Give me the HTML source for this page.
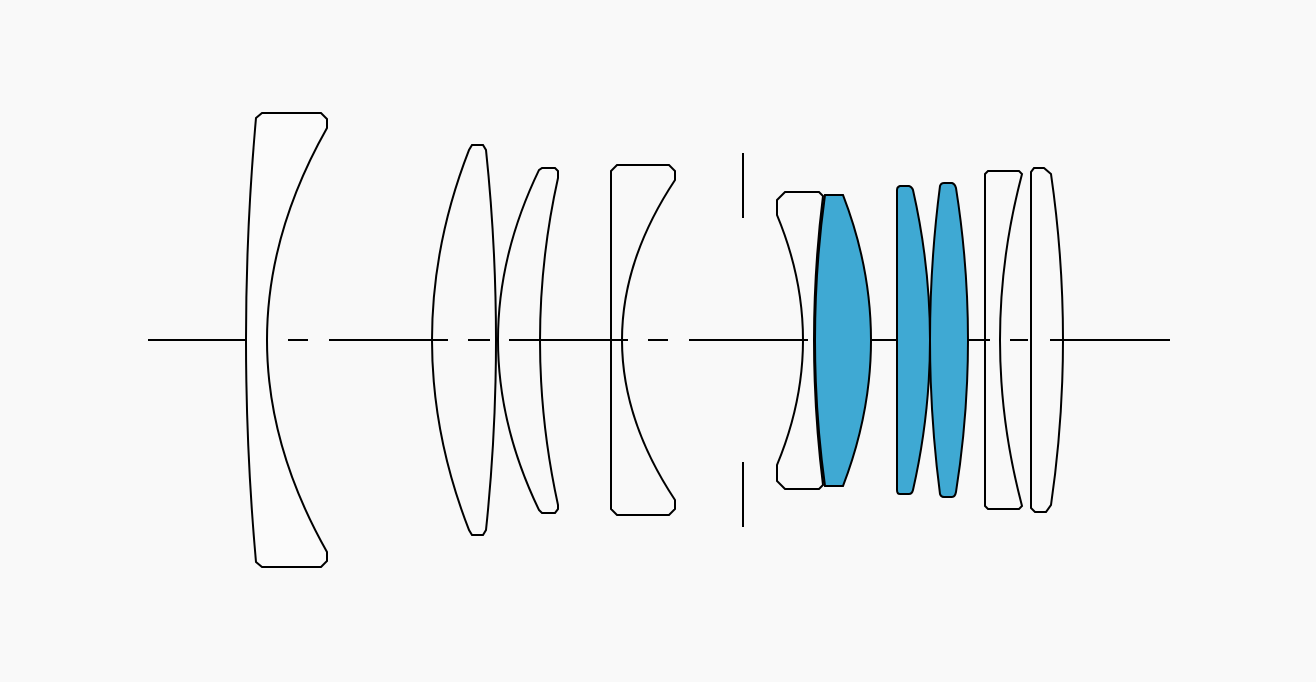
<!DOCTYPE html>
<html><head><meta charset="utf-8"><style>html,body{margin:0;padding:0;background:#f9f9f9}svg{display:block}</style></head>
<body>
<svg width="1316" height="682" viewBox="0 0 1316 682" xmlns="http://www.w3.org/2000/svg">
<rect width="1316" height="682" fill="#f9f9f9"/>
<g stroke="#000" stroke-width="2" fill="none">
<path d="M148 340H267M288 340H308M329 340H448M468 340H490M509 340H628M648 340H668M689 340H808M872 340H897M968 340H990M1010 340H1028M1050 340H1170"/>
<path d="M743 153V218M743 462V527"/>
<!-- lens 1 -->
<path d="M256 118 Q236 340 256 562 L262 567 L321 567 L327 561 L327 552 Q207 340 327 128 L327 119 L321 113 L262 113 Z" fill="#fbfbfb"/>
<!-- lens 2 -->
<path d="M469 150 Q395 340 469 530 L472 535 L483 535 L486 530 Q506 340 486 150 L483 145 L472 145 Z"/>
<!-- lens 3 -->
<path d="M539 170 Q457 340 539 510 L542 513 L555 513 L558 509 L558 505 Q522 340 558 178 L558 171 L555 168 L542 168 Z"/>
<!-- lens 4 -->
<path d="M611 171 L611 509 L617 515 L669 515 L675 509 L675 500 Q569 340 675 180 L675 171 L669 165 L617 165 Z"/>
<!-- lens 5 white -->
<path d="M777 200 L785 192 L819 192 L823 196 Q805 340 823 485 L819 489 L785 489 L777 481 L777 465 Q829 340 777 215 Z"/>
<!-- blue lenses -->
<path d="M825 195 L843 195 Q899 340 843 486 L825 486 Q805 340 825 195 Z" fill="#3fa9d3"/>
<path d="M897 190 Q897 187 900 186 L909 186 Q912 187 913 190 Q947 340 913 490 Q912 494 909 494 L900 494 Q897 494 897 490 Z" fill="#3fa9d3"/>
<path d="M940 186 Q941 183 944 183 L952 183 Q955 184 956 188 Q980 340 956 492 Q955 497 952 497 L944 497 Q941 497 940 494 Q920 340 940 186 Z" fill="#3fa9d3"/>
<!-- lens 6 -->
<path d="M985 174 L988 171 L1019 171 L1022 174 L1021 178 Q979 340 1021 502 L1022 506 L1019 509 L988 509 L985 506 Z"/>
<!-- lens 7 -->
<path d="M1031 172 L1034 168 L1044 168 L1051 174 Q1075 340 1051 505 L1046 512 L1035 512 L1031 508 Z"/>
</g>
</svg>
</body></html>
